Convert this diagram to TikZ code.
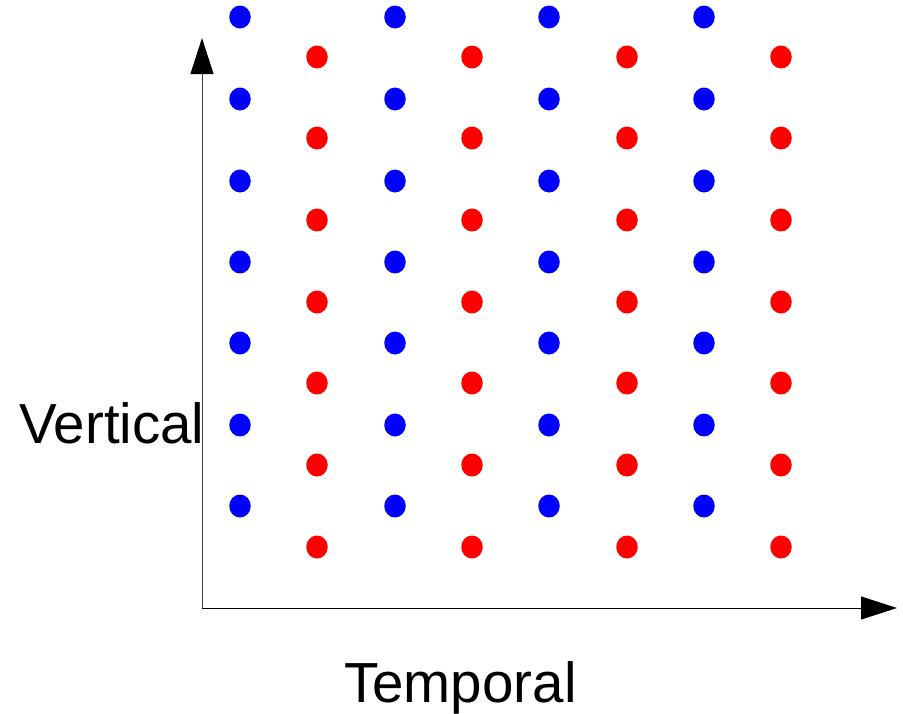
\documentclass[tikz,border=0pt]{standalone}
\usepackage{fontspec}
\setmainfont{Liberation Sans}
\usetikzlibrary{arrows.meta,shapes.geometric}
\begin{document}
\begin{tikzpicture}[x=1pt,y=-1pt,
  dotb/.style={ellipse,fill={rgb,255:red,0;green,0;blue,255},draw=none,minimum width=21.5pt,minimum height=23pt,inner sep=0pt},
  dotr/.style={ellipse,fill={rgb,255:red,255;green,0;blue,0},draw=none,minimum width=21.5pt,minimum height=23pt,inner sep=0pt},
  axis/.style={line width=1pt,-{Triangle[length=36pt,width=23pt,color=black]}},
  lbl/.style={inner sep=0pt,font=\fontsize{56.5}{60}\selectfont,anchor=base west}]
\useasboundingbox (0,0) rectangle (903,713);
\coordinate (o) at (202,608);
\coordinate (ytip) at (202,38);
\coordinate (xtip) at (897,608);
\draw[axis,draw=black!75] (o) -- (ytip);
\draw[axis] (o) -- (xtip);
\foreach \x [count=\i] in {240,395,549,704}{
  \foreach \y [count=\j] in {17,99,181,262,343,425,506}{
    \node[dotb] (b\i\j) at (\x,\y) {};
  }
}
\foreach \x [count=\i] in {317,472,627,781}{
  \foreach \y [count=\j] in {57,138,220,302,383,465,547}{
    \node[dotr] (r\i\j) at (\x,\y) {};
  }
}
\node[lbl] (vlab) at (19,443) {Vertical};
\node[lbl] (tlab) at (344,702) {Temporal};
\end{tikzpicture}
\end{document}
